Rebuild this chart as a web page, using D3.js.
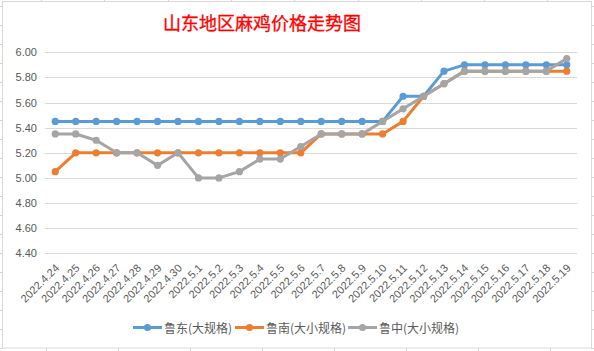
<!DOCTYPE html>
<html>
<head>
<meta charset="utf-8">
<script src="https://cdn.jsdelivr.net/npm/d3@7"></script>
<style>
  body { margin: 0; background: #fff; }
  svg { display: block; }
</style>
</head>
<body>
<div id="chart"></div>
<script>
// data
var dates = ["2022.4.24","2022.4.25","2022.4.26","2022.4.27","2022.4.28","2022.4.29","2022.4.30",
  "2022.5.1","2022.5.2","2022.5.3","2022.5.4","2022.5.5","2022.5.6","2022.5.7","2022.5.8","2022.5.9",
  "2022.5.10","2022.5.11","2022.5.12","2022.5.13","2022.5.14","2022.5.15","2022.5.16","2022.5.17",
  "2022.5.18","2022.5.19"]
var ludong = [5.45,5.45,5.45,5.45,5.45,5.45,5.45,5.45,5.45,5.45,5.45,5.45,5.45,5.45,5.45,5.45,
  5.45,5.65,5.65,5.85,5.90,5.90,5.90,5.90,5.90,5.90]
var lunan = [5.05,5.20,5.20,5.20,5.20,5.20,5.20,5.20,5.20,5.20,5.20,5.20,5.20,5.35,5.35,5.35,
  5.35,5.45,5.65,5.75,5.85,5.85,5.85,5.85,5.85,5.85]
var luzhong = [5.35,5.35,5.30,5.20,5.20,5.10,5.20,5.00,5.00,5.05,5.15,5.15,5.25,5.35,5.35,5.35,
  5.45,5.55,5.65,5.75,5.85,5.85,5.85,5.85,5.85,5.95]
var seriesNames = ["鲁东(大规格)", "鲁南(大小规格)", "鲁中(大小规格)"]
var yTicks = [4.4, 4.6, 4.8, 5.0, 5.2, 5.4, 5.6, 5.8, 6.0]

var width = 594, height = 351
var colors = ["#5B9BD5", "#ED7D31", "#A5A5A5"]
var series = [ludong, lunan, luzhong].map(function(v, i) {
  return { name: seriesNames[i], values: v, color: colors[i] }
})

var svg = d3.select("#chart").append("svg")
  .attr("width", width)
  .attr("height", height)

// spreadsheet cells peeking out round the chart
var sheet = svg.append("g").attr("stroke", "#d4d4d4").attr("stroke-width", 1)
d3.range(6, 351, 19).forEach(function(y) {
  sheet.append("line").attr("x1", 0).attr("x2", 3).attr("y1", y + 0.5).attr("y2", y + 0.5)
  sheet.append("line").attr("x1", 591).attr("x2", 594).attr("y1", y + 0.5).attr("y2", y + 0.5)
})
d3.range(41, 594, 63.3).forEach(function(x) {
  sheet.append("line").attr("x1", Math.round(x) + 0.5).attr("x2", Math.round(x) + 0.5).attr("y1", 0).attr("y2", 2)
})
d3.range(46, 594, 72).forEach(function(x) {
  sheet.append("line").attr("x1", x + 0.5).attr("x2", x + 0.5).attr("y1", 348).attr("y2", 351)
})

// chart area
svg.append("rect")
  .attr("x", 2.5).attr("y", 1.5)
  .attr("width", 589).attr("height", 346.5)
  .attr("fill", "#fff")
  .attr("stroke", "#d9d9d9")

svg.append("text")
  .text("山东地区麻鸡价格走势图")
  .attr("x", 262)
  .attr("y", 30)
  .attr("text-anchor", "middle")
  .style("font-family", "'Noto Sans CJK SC'")
  .style("font-size", "18px")
  .style("fill", "#FF0000")
  .style("stroke", "#FF0000")
  .style("stroke-width", 0.3)

var x = d3.scaleBand().domain(dates).range([45, 577])
var y = d3.scaleLinear().domain([4.4, 6.0]).range([253.3, 52.3])
var cx = function(d) { return x(d) + x.bandwidth() / 2 }

// gridlines
svg.append("g")
  .selectAll("line")
  .data(yTicks)
  .enter()
  .append("line")
  .attr("x1", 45).attr("x2", 577)
  .attr("y1", function(d) { return Math.round(y(d)) + 0.5 })
  .attr("y2", function(d) { return Math.round(y(d)) + 0.5 })
  .attr("stroke", "#d9d9d9")

// y labels
svg.append("g")
  .selectAll("text")
  .data(yTicks)
  .enter()
  .append("text")
  .text(function(d) { return d.toFixed(2) })
  .attr("x", 37)
  .attr("y", function(d) { return y(d) + 4 })
  .attr("text-anchor", "end")
  .style("font-family", "'Liberation Sans', Arial")
  .style("font-size", "11px")
  .style("fill", "#595959")

// x labels, rotated
svg.append("g")
  .selectAll("text")
  .data(dates)
  .enter()
  .append("text")
  .text(function(d) { return d })
  .attr("transform", function(d) { return "translate(" + (cx(d) + 2) + ",266) rotate(-45)" })
  .attr("text-anchor", "end")
  .attr("dy", "0.35em")
  .style("font-family", "'Liberation Sans', Arial")
  .style("font-size", "11px")
  .style("fill", "#595959")

var line = d3.line()
  .x(function(d, i) { return cx(dates[i]) })
  .y(function(d) { return y(d) })

var sg = svg.selectAll("g.series")
  .data(series)
  .enter()
  .append("g")
  .attr("class", "series")

sg.append("path")
  .attr("d", function(s) { return line(s.values) })
  .attr("fill", "none")
  .attr("stroke", function(s) { return s.color })
  .attr("stroke-width", 3)
  .attr("stroke-linejoin", "round")

sg.each(function(s) {
  d3.select(this).selectAll("circle")
    .data(s.values)
    .enter()
    .append("circle")
    .attr("cx", function(d, i) { return cx(dates[i]) })
    .attr("cy", function(d) { return y(d) })
    .attr("r", 3.6)
    .attr("fill", s.color)
})

// legend
var legendX = [133, 235, 348]
var lg = svg.selectAll("g.legend")
  .data(series)
  .enter()
  .append("g")
  .attr("class", "legend")
  .attr("transform", function(s, i) { return "translate(" + legendX[i] + ",327.5)" })

lg.append("line")
  .attr("x1", 0).attr("x2", 29)
  .attr("stroke", function(s) { return s.color })
  .attr("stroke-width", 3)
lg.append("circle")
  .attr("cx", 14.5)
  .attr("r", 3.6)
  .attr("fill", function(s) { return s.color })
lg.append("text")
  .text(function(s) { return s.name })
  .attr("x", 31)
  .attr("y", 5)
  .style("font-family", "'Noto Sans CJK SC'")
  .style("font-size", "12px")
  .style("fill", "#595959")
</script>
</body>
</html>
